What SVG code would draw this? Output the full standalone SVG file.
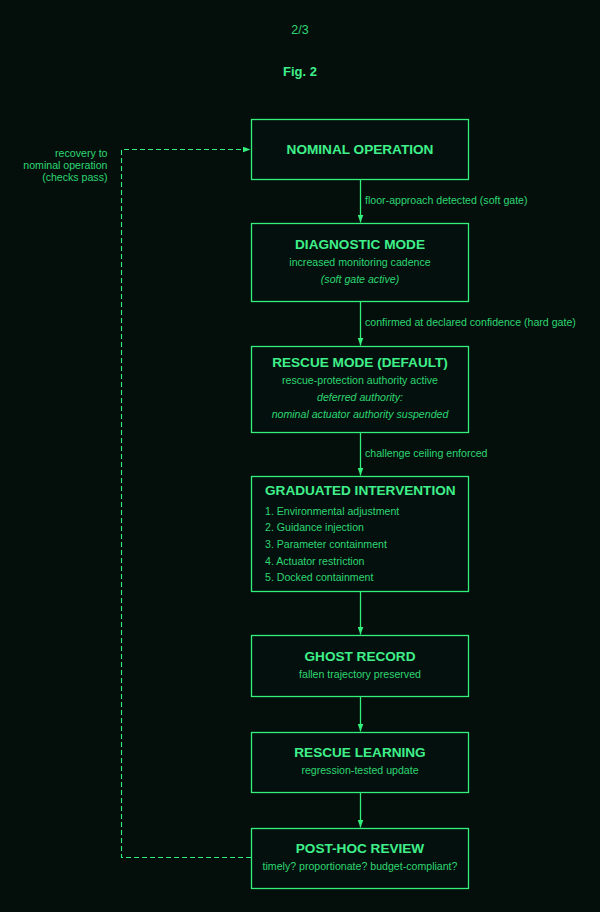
<svg xmlns="http://www.w3.org/2000/svg" width="600" height="912" viewBox="0 0 600 912">
<defs>
<style>
text{font-family:"Liberation Sans",Arial,sans-serif}
.t{font-size:13.6px;font-weight:bold;fill:#3ff08a;text-anchor:middle}
.s{font-size:10.6px;fill:#2ed672;text-anchor:middle}
.i{font-style:italic}
.l{font-size:10.6px;fill:#2ed672}
.box{fill:#04100d;stroke:#33f07c;stroke-width:1.3}
.e{stroke:#33f07c;stroke-width:1.3;fill:none}
.d{stroke:#33f07c;stroke-width:1.1;fill:none;stroke-dasharray:5,3}
</style>
<marker id="a" viewBox="0 0 8 6" refX="8" refY="3" markerWidth="8" markerHeight="6" markerUnits="userSpaceOnUse" orient="auto">
<path d="M0,0L8,3L0,6z" fill="#33f07c"/>
</marker>
</defs>
<rect width="600" height="912" fill="#040f0c"/>
<text x="300" y="34" style="font-size:12.5px;fill:#2ed672;text-anchor:middle">2/3</text>
<text x="300" y="75.5" style="font-size:13px;font-weight:bold;fill:#3ff08a;text-anchor:middle">Fig. 2</text>

<g id="connectors">
<line class="e" x1="360.5" y1="179.5" x2="360.5" y2="222.5" marker-end="url(#a)"/>
<text class="l" x="365" y="204">floor-approach detected (soft gate)</text>
<line class="e" x1="360.5" y1="301.5" x2="360.5" y2="345.5" marker-end="url(#a)"/>
<text class="l" x="365" y="325.5">confirmed at declared confidence (hard gate)</text>
<line class="e" x1="360.5" y1="432.5" x2="360.5" y2="475.5" marker-end="url(#a)"/>
<text class="l" x="365" y="456.5">challenge ceiling enforced</text>
<line class="e" x1="360.5" y1="591.5" x2="360.5" y2="634.5" marker-end="url(#a)"/>
<line class="e" x1="360.5" y1="696.5" x2="360.5" y2="731.5" marker-end="url(#a)"/>
<line class="e" x1="360.5" y1="792.5" x2="360.5" y2="827.5" marker-end="url(#a)"/>
<path class="d" d="M251,857.5H121.5V149.5H250.5" marker-end="url(#a)"/>
<text class="l" x="107.5" y="156.5" text-anchor="end">recovery to</text>
<text class="l" x="107.5" y="168.5" text-anchor="end">nominal operation</text>
<text class="l" x="107.5" y="180.5" text-anchor="end">(checks pass)</text>
</g>

<g id="nominal">
<rect class="box" x="251.5" y="119.5" width="217" height="60"/>
<text class="t" x="360" y="154">NOMINAL OPERATION</text>
</g>
<g id="diagnostic">
<rect class="box" x="251.5" y="223.5" width="217" height="78"/>
<text class="t" x="360" y="249">DIAGNOSTIC MODE</text>
<text class="s" x="360" y="266">increased monitoring cadence</text>
<text class="s i" x="360" y="282.5">(soft gate active)</text>
</g>
<g id="rescue-mode">
<rect class="box" x="251.5" y="346.5" width="217" height="86"/>
<text class="t" x="360" y="366.5">RESCUE MODE (DEFAULT)</text>
<text class="s" x="360" y="383.5">rescue-protection authority active</text>
<text class="s i" x="360" y="400.5">deferred authority:</text>
<text class="s i" x="360" y="417.5">nominal actuator authority suspended</text>
</g>
<g id="graduated">
<rect class="box" x="251.5" y="476.5" width="217" height="115"/>
<text class="t" x="265" y="495" style="text-anchor:start">GRADUATED INTERVENTION</text>
<text class="l" x="265" y="514.5">1. Environmental adjustment</text>
<text class="l" x="265" y="531.2">2. Guidance injection</text>
<text class="l" x="265" y="547.9">3. Parameter containment</text>
<text class="l" x="265" y="564.6">4. Actuator restriction</text>
<text class="l" x="265" y="581.3">5. Docked containment</text>
</g>
<g id="ghost">
<rect class="box" x="251.5" y="635.5" width="217" height="61"/>
<text class="t" x="360" y="660.5">GHOST RECORD</text>
<text class="s" x="360" y="677.5">fallen trajectory preserved</text>
</g>
<g id="learning">
<rect class="box" x="251.5" y="732.5" width="217" height="60"/>
<text class="t" x="360" y="756.5">RESCUE LEARNING</text>
<text class="s" x="360" y="773.5">regression-tested update</text>
</g>
<g id="review">
<rect class="box" x="251.5" y="828.5" width="217" height="60"/>
<text class="t" x="360" y="852.5">POST-HOC REVIEW</text>
<text class="s" x="360" y="870">timely? proportionate? budget-compliant?</text>
</g>
</svg>
